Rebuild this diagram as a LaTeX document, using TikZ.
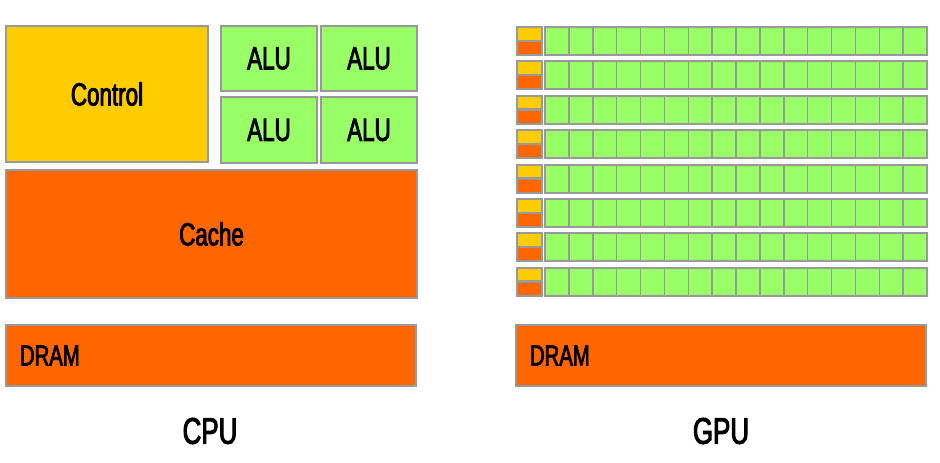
\documentclass[tikz,border=0pt]{standalone}
\usepackage{fontspec}
\setmainfont[FakeStretch=0.7, FakeBold=2.6]{Liberation Sans}
\usepackage{xcolor}
\usepackage{tikz}
\usetikzlibrary{positioning}
\definecolor{ctrlyellow}{HTML}{FFCC00}
\definecolor{alugreen}{HTML}{99FF66}
\definecolor{cacheorange}{HTML}{FF6600}
\definecolor{edgegray}{HTML}{999999}

\begin{document}
\begin{tikzpicture}[x=1pt,y=-1pt,
  box/.style={draw=edgegray, line width=2pt, outer sep=1pt, inner sep=0pt, anchor=north west},
  flat/.style={inner sep=0pt, outer sep=0pt, anchor=north west},
  bigtext/.style={font=\fontsize{32}{36}\selectfont},
  dramtext/.style={font=\fontsize{29}{33}\selectfont, text width=382pt, align=left, inner xsep=14pt},
  captext/.style={font=\fontsize{37}{42}\selectfont},
  cellline/.style={draw=edgegray, line width=1.5pt}]
            \useasboundingbox (0,0) rectangle (940,463);
            % Left diagram (CPU)
            \node[box, bigtext, fill=ctrlyellow, minimum width=202, minimum height=136] (control) at (5,25) {Control};
            \node[box, bigtext, fill=alugreen, minimum width=96, minimum height=65] (alu1) at (220,25) {ALU};
            \node[box, bigtext, fill=alugreen, minimum width=96, minimum height=65] (alu2) at (320,25) {ALU};
            \node[box, bigtext, fill=alugreen, minimum width=96, minimum height=66] (alu3) at (220,96) {ALU};
            \node[box, bigtext, fill=alugreen, minimum width=96, minimum height=66] (alu4) at (320,96) {ALU};
            \node[box, bigtext, fill=cacheorange, minimum width=411, minimum height=128] (cache) at (5,169) {Cache};
            \node[box, dramtext, fill=cacheorange, minimum height=61] (cpudram) at (5,324) {DRAM};
            \node[captext] (cpu) at (210,431) {CPU};
            % Right diagram (GPU)
            \foreach \r in {0,...,7}{
                \pgfmathsetmacro{\y}{26+34.4*\r}
                \node[flat, fill=edgegray, minimum width=27, minimum height=30] (gframe\r) at (516,\y) {};
                \node[flat, fill=ctrlyellow, minimum width=23, minimum height=11.5] (gctrl\r) at (518,\y+2) {};
                \node[flat, fill=cacheorange, minimum width=23, minimum height=12] (gcache\r) at (518,\y+16) {};
                \node[box, fill=alugreen, minimum width=382, minimum height=28] (grow\r) at (544,\y) {};
                \foreach \c in {1,...,15}
                    \draw[cellline] (545+23.875*\c,\y+1) -- ++(0,28);
            }
            \node[box, dramtext, fill=cacheorange, minimum height=61] (gpudram) at (515,324) {DRAM};
            \node[captext] (gpu) at (721,431) {GPU};
        \end{tikzpicture}
\end{document}
